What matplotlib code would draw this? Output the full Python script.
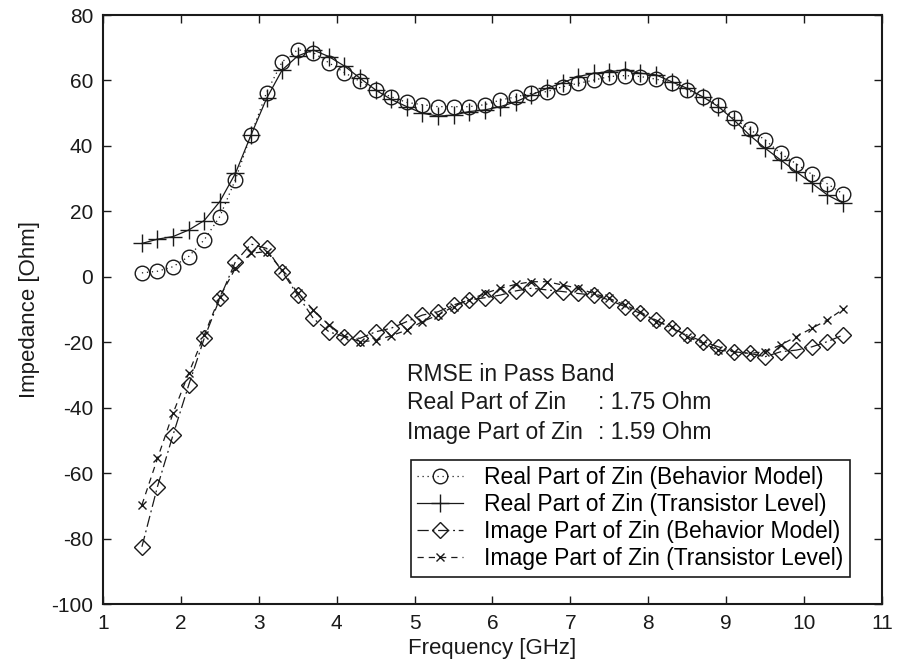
#!/usr/bin/env python
"""Input impedance of the LNA: behavior model vs. transistor level."""

import matplotlib

matplotlib.use("Agg")

import matplotlib.pyplot as plt
from matplotlib.axes import Axes

freq_ghz = [
    1.5, 1.7, 1.9, 2.1, 2.3, 2.5, 2.7, 2.9, 3.1, 3.3,
    3.5, 3.7, 3.9, 4.1, 4.3, 4.5, 4.7, 4.9, 5.1, 5.3,
    5.5, 5.7, 5.9, 6.1, 6.3, 6.5, 6.7, 6.9, 7.1, 7.3,
    7.5, 7.7, 7.9, 8.1, 8.3, 8.5, 8.7, 8.9, 9.1, 9.3,
    9.5, 9.7, 9.9, 10.1, 10.3, 10.5,
]

real_behavior = [
    1.2, 1.7, 3.1, 6.2, 11.3, 18.4, 29.7, 43.4, 56.3, 65.7,
    69.4, 68.5, 65.4, 62.4, 59.7, 57.0, 55.0, 53.3, 52.6, 52.0,
    52.0, 52.0, 52.6, 54.0, 55.0, 56.1, 56.6, 58.1, 59.1, 60.1,
    61.2, 61.5, 61.2, 60.4, 59.3, 57.1, 54.9, 52.5, 48.4, 45.1,
    41.8, 37.7, 34.5, 31.3, 28.4, 25.3,
]

real_transistor = [
    10.2, 11.5, 12.3, 14.3, 17.2, 23.0, 31.6, 43.3, 54.5, 63.2,
    67.5, 69.3, 67.3, 64.4, 60.7, 57.1, 54.2, 52.0, 50.0, 49.1,
    49.4, 50.5, 51.0, 52.0, 53.5, 55.6, 57.6, 59.3, 61.2, 62.2,
    62.7, 63.2, 62.2, 61.7, 59.6, 57.6, 55.0, 52.0, 47.9, 43.3,
    39.3, 35.7, 32.1, 28.6, 25.0, 22.5,
]

imag_behavior = [
    -82.5, -64.1, -48.3, -33.1, -18.8, -6.6, 4.6, 10.0, 8.7, 1.6,
    -5.6, -12.7, -16.8, -18.3, -18.8, -16.8, -15.7, -13.7, -11.7, -10.7,
    -8.6, -7.1, -6.4, -5.6, -4.3, -3.5, -4.0, -4.5, -5.1, -5.6,
    -7.1, -9.1, -11.2, -13.2, -15.7, -17.8, -19.8, -21.4, -22.9, -23.4,
    -24.4, -22.9, -22.4, -21.4, -19.8, -17.8,
]

imag_transistor = [
    -69.7, -55.5, -41.7, -29.5, -17.8, -6.1, 2.6, 7.2, 7.7, 2.1,
    -5.0, -10.1, -14.7, -18.1, -19.8, -19.5, -18.0, -16.3, -13.7, -11.7,
    -9.1, -7.1, -5.1, -3.5, -2.3, -1.5, -1.5, -2.5, -3.5, -5.1,
    -6.6, -8.6, -10.7, -13.7, -15.2, -18.3, -20.3, -22.4, -22.9, -23.4,
    -22.9, -20.8, -18.3, -15.7, -13.2, -9.9,
]

rmse_labels = ["Real Part of Zin", "Image Part of Zin"]
rmse_values = [": 1.75 Ohm", ": 1.59 Ohm"]

INK = "#1a1a1a"


def plot_curves(ax: Axes) -> None:
    common = dict(color=INK, linewidth=0.9, markerfacecolor="none",
                  markeredgecolor=INK, markeredgewidth=1.0)
    ax.plot(freq_ghz, real_behavior, linestyle=(0, (1, 3)), marker="o",
            markersize=10.5, label="Real Part of Zin (Behavior Model)", **common)
    ax.plot(freq_ghz, real_transistor, linestyle="-", marker="+",
            markersize=13, label="Real Part of Zin (Transistor Level)", **common)
    ax.plot(freq_ghz, imag_behavior, linestyle=(0, (9, 3, 1.5, 3)), marker="D",
            markersize=8.5, label="Image Part of Zin (Behavior Model)", **common)
    ax.plot(freq_ghz, imag_transistor, linestyle=(0, (5, 4)), marker="x",
            markersize=6, label="Image Part of Zin (Transistor Level)", **common)


def annotate_rmse(ax: Axes) -> None:
    ax.text(0.39, 0.389, "RMSE in Pass Band", transform=ax.transAxes,
            fontsize=16.5, color=INK, va="center", ha="left")
    for i, (name, value) in enumerate(zip(rmse_labels, rmse_values)):
        y = 0.343 - i * 0.051
        ax.text(0.39, y, name, transform=ax.transAxes,
                fontsize=16.5, color=INK, va="center", ha="left")
        ax.text(0.635, y, value, transform=ax.transAxes,
                fontsize=16.5, color=INK, va="center", ha="left")


def main() -> None:
    plt.rcParams["font.family"] = ["Liberation Sans", "DejaVu Sans"]
    plt.rcParams["axes.unicode_minus"] = False

    fig = plt.figure(figsize=(9.0, 6.71), dpi=100)
    ax = fig.add_axes([0.1144, 0.0998, 0.8656, 0.8778])

    plot_curves(ax)
    annotate_rmse(ax)

    ax.set_xlim(1, 11)
    ax.set_ylim(-100, 80)
    ax.set_xticks(range(1, 12))
    ax.set_yticks(range(-100, 81, 20))
    ax.tick_params(direction="in", top=True, right=True, length=6, width=1,
                   labelsize=15, colors=INK, pad=7)
    for spine in ax.spines.values():
        spine.set_linewidth(1.5)
        spine.set_color(INK)

    ax.set_xlabel("Frequency [GHz]", fontsize=16, color=INK, labelpad=4)
    ax.set_ylabel("Impedance [Ohm]", fontsize=16, color=INK, labelpad=8)

    leg = ax.legend(loc="lower right", bbox_to_anchor=(0.959, 0.046),
                    borderaxespad=0, fontsize=16.5, fancybox=False,
                    edgecolor=INK, framealpha=1, handlelength=2.0,
                    handletextpad=0.9, labelspacing=0.17, borderpad=0.3,
                    numpoints=1)
    leg.get_frame().set_linewidth(1.2)

    fig.savefig("out.png", dpi=100)


if __name__ == "__main__":
    main()
